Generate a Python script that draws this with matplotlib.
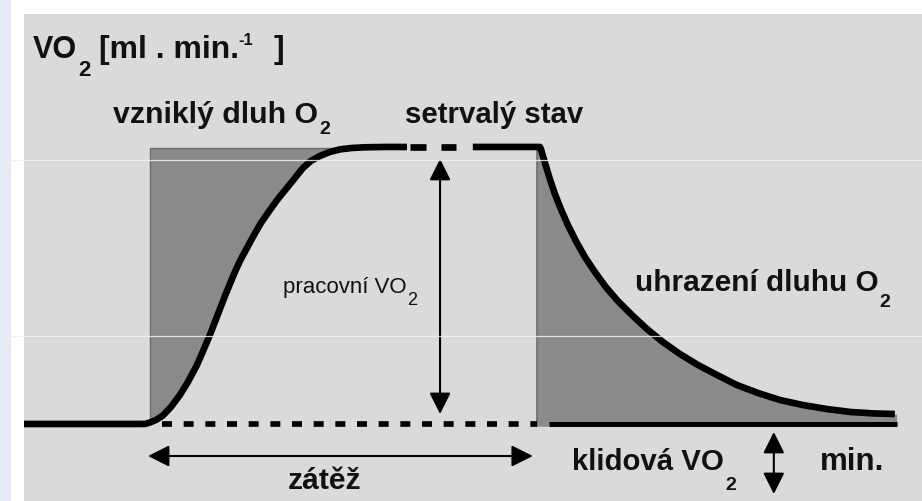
import numpy as np
import matplotlib.pyplot as plt
from matplotlib.patches import FancyArrowPatch, Rectangle, ArrowStyle

plt.rcParams['font.family'] = ['Liberation Sans', 'DejaVu Sans']
plt.rcParams['lines.scale_dashes'] = False

# VO2 in ml/min, time in min (exercise runs from t = 0 to t = 10)
rest_vo2 = 500
steady_vo2 = 3000
load_start, load_end = 0.0, 10.0

# onset of exercise - VO2 rises towards steady state
rise_t = [-3.23, -0.3, -0.179, -0.103, 0.0, 0.154, 0.333, 0.538, 0.769, 0.974,
          1.205, 1.385, 1.538, 1.667, 1.795, 1.923, 2.051, 2.179, 2.308, 2.487,
          2.641, 2.846, 3.077, 3.282, 3.513, 3.718, 3.923, 4.128, 4.359, 4.615,
          4.872, 5.179, 5.513, 6.026, 6.59]
rise_vo2 = [500, 500, 500, 502, 514, 536, 577, 653, 762, 879,
            1032, 1177, 1304, 1421, 1538, 1655, 1764, 1872, 1971, 2088,
            2188, 2314, 2431, 2531, 2630, 2720, 2810, 2874, 2919, 2955,
            2978, 2991, 2997, 3000, 3000]

# interrupted part of the steady state
steady_dashes = [(6.67, 7.08), (7.46, 7.85)]

# steady state end and recovery after the load
decay_t = [8.28, 10.0, 10.026, 10.077, 10.154, 10.256, 10.385, 10.538, 10.718,
           10.923, 11.154, 11.41, 11.692, 12.0, 12.359, 12.744, 13.154, 13.59,
           14.051, 14.538, 15.051, 15.59, 16.154, 16.744, 17.359, 17.974,
           18.59, 19.103]
decay_vo2 = [3000, 3000, 2982, 2919, 2829, 2711, 2576, 2440, 2296,
             2152, 2007, 1872, 1736, 1610, 1484, 1358, 1240, 1132,
             1033, 943, 852, 780, 717, 671, 635, 608,
             595, 590]

W, H = 922, 502
fig = plt.figure(figsize=(W / 100, H / 100), dpi=100, facecolor='white')

# pale blue strip along the left border
fig.patches.append(Rectangle((0, 0), 11 / W, 1, transform=fig.transFigure,
                             facecolor='#e4ebf6', edgecolor='none'))

ax = fig.add_axes([24 / W, 0, (W - 24) / W, (H - 15) / H])
ax.set_facecolor('#dadada')
ax.set_xlim(-3.23, 19.8)
ax.set_ylim(-195, 4200)
ax.set_xticks([])
ax.set_yticks([])
for s in ax.spines.values():
    s.set_visible(False)

fill_col = '#8a8a8a'
edge_col = '#6c6c6c'

# oxygen deficit: area between the rising curve and the demand level
rt = np.array(rise_t)
rv = np.array(rise_vo2)
m = rt >= load_start
ax.fill_between(rt[m], rv[m], 2991, color=fill_col, lw=0, zorder=1)
ax.plot([load_start, load_start, 4.9], [rest_vo2, 2991, 2991],
        color=edge_col, lw=1, zorder=1.5)

# oxygen debt repayment: area under the recovery curve
dt = np.array([9.92] + decay_t[1:] + [19.15])
dv = np.array([steady_vo2] + decay_vo2[1:] + [590])
ax.fill_between(dt, rest_vo2 - 20, dv, color=fill_col, lw=0, zorder=1)
ax.plot([9.92, 9.92], [rest_vo2 - 20, steady_vo2], color=edge_col, lw=1.2, zorder=1.5)

# VO2 curve
ax.plot(rise_t, rise_vo2, color='black', lw=4.8, solid_capstyle='butt', zorder=3)
for a, b in steady_dashes:
    ax.plot([a, b], [steady_vo2, steady_vo2], color='black', lw=4.8,
            solid_capstyle='butt', zorder=3)
ax.plot(decay_t, decay_vo2, color='black', lw=4.8, solid_capstyle='butt', zorder=3)

# resting level during the load (dashed) and after it
ax.plot([0.31, 9.92], [rest_vo2, rest_vo2], color='black', lw=4.1,
        linestyle=(0, (7.2, 8.4)), zorder=2)
ax.plot([10.23, 19.15], [rest_vo2, rest_vo2], color='black', lw=3.6,
        solid_capstyle='butt', zorder=2)

style = ArrowStyle('<|-|>', head_length=13, head_width=6.5)


def double_arrow(p0, p1):
    ax.add_patch(FancyArrowPatch(p0, p1, arrowstyle=style, mutation_scale=1,
                                 color='black', lw=1.5, shrinkA=0, shrinkB=0,
                                 zorder=4))


double_arrow((7.44, 590), (7.44, 2892))      # working VO2
double_arrow((-0.05, 211), (9.82, 211))      # load duration
double_arrow((16.0, 428), (16.0, -132))      # resting VO2

# faint horizontal lines across the slide
for yy in (161, 337):
    fig.add_artist(plt.Line2D([11 / W, 1], [1 - yy / H, 1 - yy / H],
                              transform=fig.transFigure, color='#f2f2f6',
                              lw=0.9, alpha=0.85, zorder=10))

renderer = fig.canvas.get_renderer()


def label(x, y, parts):
    """parts: (text, size, weight, baseline shift px, gap px) placed left to right"""
    cur = x
    for s, size, weight, dy, gap in parts:
        t = fig.text((cur + gap) / W, 1 - (y + dy) / H, s, fontsize=size,
                     fontweight=weight, ha='left', va='baseline', color='#111111')
        cur = t.get_window_extent(renderer).x1


B = 'bold'
# axis title
label(33, 58, [('VO', 22, B, 0, 0), ('2', 16, B, 18, 1),
               ('[ml . min.', 23, B, 0, 8), ('-1', 12, B, -13, 0),
               (']', 23, B, 0, 20)])

label(113, 123, [('vzniklý dluh O', 21.8, B, 0, 0), ('2', 14, B, 11, 1)])
label(405, 123, [('setrvalý stav', 21.2, B, 0, 0)])
label(283, 293, [('pracovní VO', 16, 'normal', 0, 0), ('2', 13, 'normal', 12, 1)])
label(635, 291, [('uhrazení dluhu O', 21.4, B, 0, 0), ('2', 14, B, 16, 1)])
label(288, 489, [('zátěž', 21.6, B, 0, 0)])
label(572, 470, [('klidová VO', 21.2, B, 0, 0), ('2', 14, B, 20, 1)])
label(820, 470, [('min.', 22.5, B, 0, 0)])

fig.savefig('out.png', dpi=100, facecolor='white')
